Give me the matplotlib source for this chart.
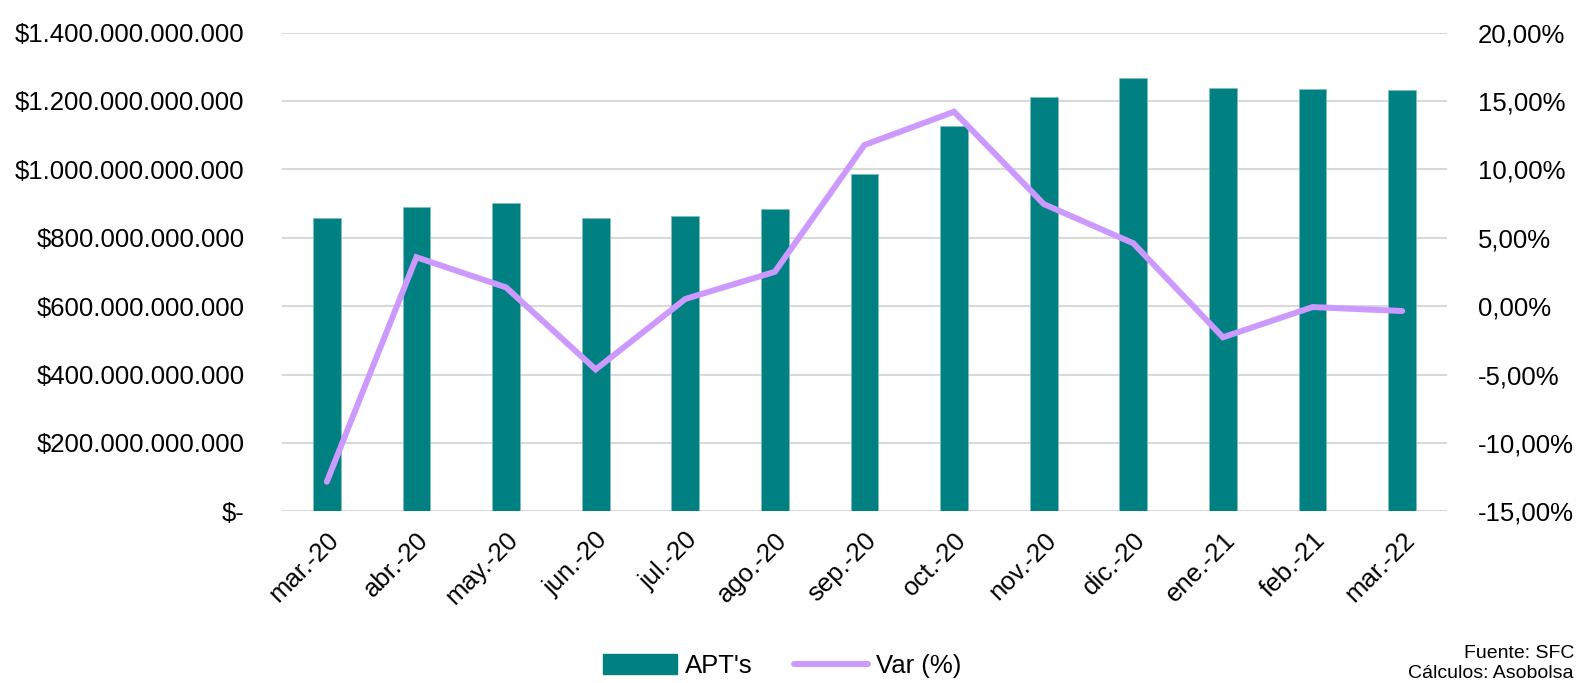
import matplotlib
matplotlib.use("Agg")
import matplotlib.pyplot as plt
from matplotlib.ticker import FuncFormatter, FixedLocator
from matplotlib.patches import Patch
from matplotlib.lines import Line2D

plt.rcParams['font.family'] = ['Liberation Sans Narrow', 'Liberation Sans', 'DejaVu Sans']

categories = ["mar.-20", "abr.-20", "may.-20", "jun.-20", "jul.-20", "ago.-20",
              "sep.-20", "oct.-20", "nov.-20", "dic.-20", "ene.-21", "feb.-21", "mar.-22"]
apts = [857.6e9, 889e9, 900.6e9, 857.6e9, 862.5e9, 884e9,
        986e9, 1126.6e9, 1211e9, 1268e9, 1236.8e9, 1235.7e9, 1231.9e9]
var_pct = [-12.84, 3.57, 1.37, -4.63, 0.52, 2.51,
           11.78, 14.21, 7.46, 4.59, -2.28, -0.07, -0.36]
left_ticks = [0, 200e9, 400e9, 600e9, 800e9, 1000e9, 1200e9, 1400e9]
right_ticks = [-15, -10, -5, 0, 5, 10, 15, 20]

bar_color = "#008080"
line_color = "#CC99FF"
grid_color = "#D9D9D9"
fs = 18.5

fig = plt.figure(figsize=(15.79, 6.83), dpi=100)
ax = fig.add_axes([282/1579, 1-511.3/683, (1447-282)/1579, (511.3-32.5)/683])
x = list(range(len(categories)))

ax.bar(x, apts, width=0.31, color=bar_color, edgecolor="#7FBFBF", linewidth=0.6, zorder=2)
ax.set_xlim(-0.5, len(categories)-0.5)
ax.set_ylim(0, 1400e9)
ax.yaxis.set_major_locator(FixedLocator(left_ticks))

def money(v, pos):
    if v == 0:
        return "$-"
    s = f"{int(round(v)):,}".replace(",", ".")
    return "$" + s
ax.yaxis.set_major_formatter(FuncFormatter(money))
ax.grid(axis='y', color=grid_color, linewidth=1.5, zorder=0)
ax.set_axisbelow(True)
for sp in ax.spines.values():
    sp.set_visible(False)
ax.tick_params(axis='y', length=0, pad=27, labelsize=fs)
ax.tick_params(axis='x', length=0, pad=12, labelsize=fs)
ax.set_xticks(x)
ax.set_xticklabels(categories, rotation=45, ha='right', va='top', rotation_mode='anchor')

ax2 = ax.twinx()
ax2.set_ylim(-15, 20)
ax2.yaxis.set_major_locator(FixedLocator(right_ticks))
ax2.yaxis.set_major_formatter(FuncFormatter(lambda v, p: f"{v:.2f}".replace(".", ",") + "%"))
ax2.plot(x, var_pct, color=line_color, linewidth=4.3, solid_capstyle='round',
         solid_joinstyle='miter', zorder=3)
for sp in ax2.spines.values():
    sp.set_visible(False)
ax2.tick_params(axis='y', length=0, pad=22, labelsize=fs)

handles = [Patch(facecolor=bar_color, edgecolor=bar_color),
           Line2D([0], [0], color=line_color, linewidth=4.3, solid_capstyle='round')]
fig.legend(handles, ["APT's", "Var (%)"], loc='center', bbox_to_anchor=(782/1579, 1-666/683),
           ncol=2, frameon=False, fontsize=fs, handlelength=2.9, handleheight=0.8,
           handletextpad=0.3, columnspacing=1.6)

fig.text(1574/1579, 1-653/683, "Fuente: SFC", ha='right', va='center', fontsize=14)
fig.text(1574/1579, 1-673/683, "Cálculos: Asobolsa", ha='right', va='center', fontsize=14)

fig.savefig("out.png", dpi=100)
